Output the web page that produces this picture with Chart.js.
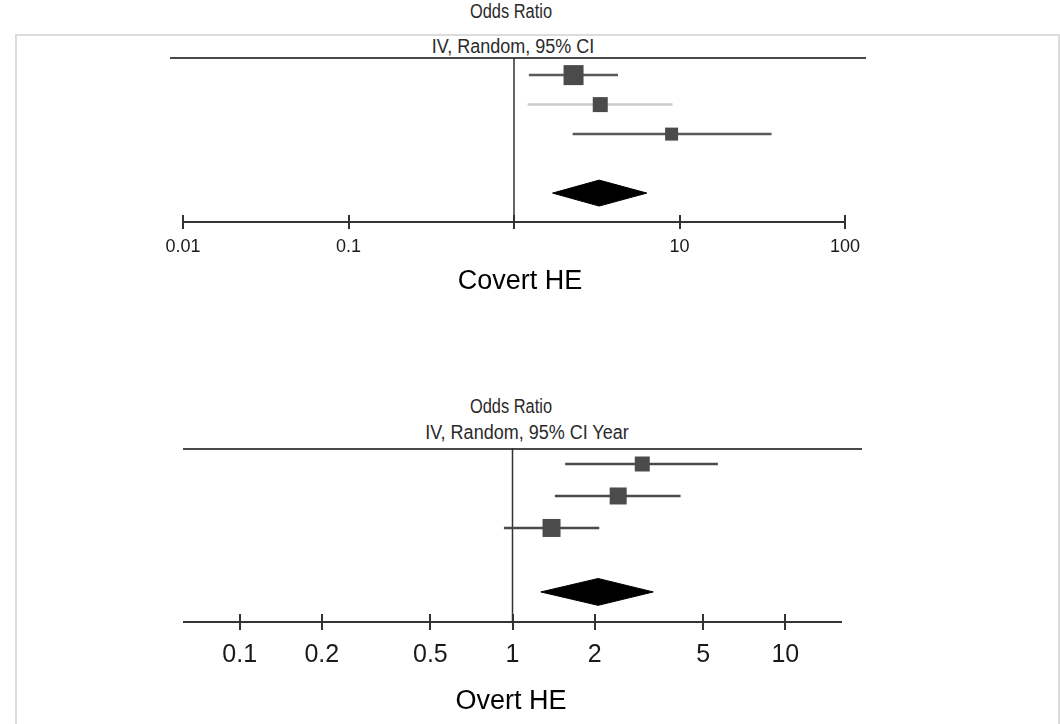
<!DOCTYPE html>
<html>
<head>
<meta charset="utf-8"/>
<style>
  html,body{margin:0;padding:0;background:#fff;}
  #wrap{position:relative;width:1060px;height:724px;overflow:hidden;font-family:"Liberation Sans",Arial,sans-serif;}
  #frame{position:absolute;left:15px;top:34px;width:1041px;height:720px;border:2px solid #dcdcdc;}
  canvas{position:absolute;left:0;top:0;}
  .t{position:absolute;transform:translate(-50%,-50%);white-space:nowrap;color:#222;}
  .hdr{font-size:20px;transform:translate(-50%,-50%) scaleX(0.82);color:#2a2a2a;}
  .hdr.wide{transform:translate(-50%,-50%) scaleX(0.9);}
  .cap{font-size:27px;color:#000;}
  .rule{position:absolute;height:2px;background:#4a4a4a;}
</style>
<script src="https://cdn.jsdelivr.net/npm/chart.js@4.4.0/dist/chart.umd.min.js"></script>
</head>
<body>
<div id="wrap">
  <div id="frame"></div>

  <div class="t hdr" style="left:511px;top:11px">Odds Ratio</div>
  <div class="t hdr wide" style="left:513px;top:46px">IV, Random, 95% CI</div>
  <div class="rule" style="left:170px;top:57px;width:696px"></div>

  <div class="t hdr" style="left:511px;top:406px">Odds Ratio</div>
  <div class="t hdr wide" style="left:527px;top:432px">IV, Random, 95% CI Year</div>
  <div class="rule" style="left:183px;top:448px;width:679px"></div>

  <canvas id="c1" width="1060" height="724"></canvas>
  <canvas id="c2" width="1060" height="724"></canvas>

  <div class="t cap" style="left:520px;top:280px">Covert HE</div>
  <div class="t cap" style="left:511px;top:700px">Overt HE</div>
</div>

<script>
// ---- data: Covert HE ----
const covertRows  = [1, 2, 3];          // study rows, top to bottom
const covertOR    = [2.29, 3.32, 8.96];
const covertLow   = [1.23, 1.21, 2.26];
const covertHigh  = [4.25, 9.08, 36.0];
const covertPool  = [1.71, 3.27, 6.35]; // low, estimate, high
const covertTicks = [0.01, 0.1, 1, 10, 100];
const covertTickLabels = ["0.01", "0.1", "", "10", "100"];

// ---- data: Overt HE ----
const overtRows  = [1, 2, 3];
const overtOR    = [2.99, 2.44, 1.39];
const overtLow   = [1.56, 1.43, 0.93];
const overtHigh  = [5.66, 4.13, 2.08];
const overtPool  = [1.27, 2.06, 3.28];
const overtTicks = [0.1, 0.2, 0.5, 1, 2, 5, 10];
const overtTickLabels = ["0.1", "0.2", "0.5", "1", "2", "5", "10"];

const POOL_ROW = 5;

// cross ticks through the axis line
const crossTicks = {
  id: "crossTicks",
  afterDraw(chart, args, opts) {
    const sc = chart.scales.x, ctx = chart.ctx, y = sc.top;
    ctx.save();
    ctx.strokeStyle = "#333";
    ctx.lineWidth = 2;
    sc.ticks.forEach(t => {
      const x = Math.round(sc.getPixelForValue(t.value));
      ctx.beginPath();
      ctx.moveTo(x, y - opts.len);
      ctx.lineTo(x, y + opts.len);
      ctx.stroke();
    });
    ctx.restore();
  }
};

function forest(id, p) {
  const ds = [];
  // squares on top
  ds.push({
    data: p.rows.map((r, i) => ({ x: p.or[i], y: r })),
    pointStyle: "rect",
    pointRadius: p.sizes.map(s => s / Math.SQRT2),
    backgroundColor: "#4b4b4b",
    borderWidth: 0,
    showLine: false
  });
  // CI whiskers
  p.rows.forEach((r, i) => {
    ds.push({
      data: [{ x: p.low[i], y: r }, { x: p.high[i], y: r }],
      showLine: true, pointRadius: 0,
      borderColor: p.ciColors[i], borderWidth: 2.5
    });
  });
  // pooled diamond: upper half filled down to lower half
  const [lo, est, hi] = p.pool;
  ds.push({
    data: [{ x: lo, y: POOL_ROW }, { x: est, y: POOL_ROW - p.dh }, { x: hi, y: POOL_ROW }],
    showLine: true, pointRadius: 0, borderColor: "#000", borderWidth: 1,
    backgroundColor: "#000", fill: "+1"
  });
  ds.push({
    data: [{ x: lo, y: POOL_ROW }, { x: est, y: POOL_ROW + p.dh }, { x: hi, y: POOL_ROW }],
    showLine: true, pointRadius: 0, borderColor: "#000", borderWidth: 1
  });
  // line of no effect
  ds.push({
    data: [{ x: 1, y: p.yMin }, { x: 1, y: p.yMax }],
    showLine: true, pointRadius: 0, borderColor: "#333", borderWidth: 1.5
  });

  return new Chart(document.getElementById(id), {
    type: "scatter",
    data: { datasets: ds },
    plugins: [crossTicks],
    options: {
      responsive: false,
      animation: false,
      layout: { padding: p.pad },
      plugins: { legend: { display: false }, tooltip: { enabled: false }, crossTicks: { len: p.tickLen } },
      scales: {
        x: {
          type: "logarithmic", min: p.xMin, max: p.xMax, position: "bottom",
          afterBuildTicks: sc => { sc.ticks = p.ticks.map(v => ({ value: v })); },
          afterFit: sc => { sc.height = p.axisH; },
          grid: { display: false, drawTicks: false },
          border: { display: true, color: "#333", width: 2 },
          ticks: {
            autoSkip: false, maxRotation: 0, padding: p.labelPad, color: "#1a1a1a",
            font: { family: "Liberation Sans, Arial, sans-serif", size: p.fontSize },
            callback: (v, i) => p.labels[i]
          }
        },
        y: { type: "linear", min: p.yMin, max: p.yMax, reverse: true, display: false }
      }
    }
  });
}

forest("c1", {
  rows: covertRows, or: covertOR, low: covertLow, high: covertHigh, pool: covertPool,
  ticks: covertTicks, labels: covertTickLabels,
  sizes: [20, 15, 13], ciColors: ["#5a5a5a", "#cacaca", "#5a5a5a"], dh: 0.44,
  xMin: 0.01, xMax: 100, yMin: 0.42, yMax: 5.98,
  pad: { left: 183, right: 215, top: 58, bottom: 724 - 222 - 40 },
  axisH: 40, labelPad: 14, fontSize: 18, tickLen: 7
});

forest("c2", {
  rows: overtRows, or: overtOR, low: overtLow, high: overtHigh, pool: overtPool,
  ticks: overtTicks, labels: overtTickLabels,
  sizes: [15, 17, 18], ciColors: ["#4a4a4a", "#4a4a4a", "#4a4a4a"], dh: 0.42,
  xMin: 1 / 16, xMax: 16, yMin: 0.5, yMax: 5.94,
  pad: { left: 184, right: 219, top: 448, bottom: 724 - 622 - 52 },
  axisH: 52, labelPad: 18, fontSize: 25, tickLen: 8
});
</script>
</body>
</html>
